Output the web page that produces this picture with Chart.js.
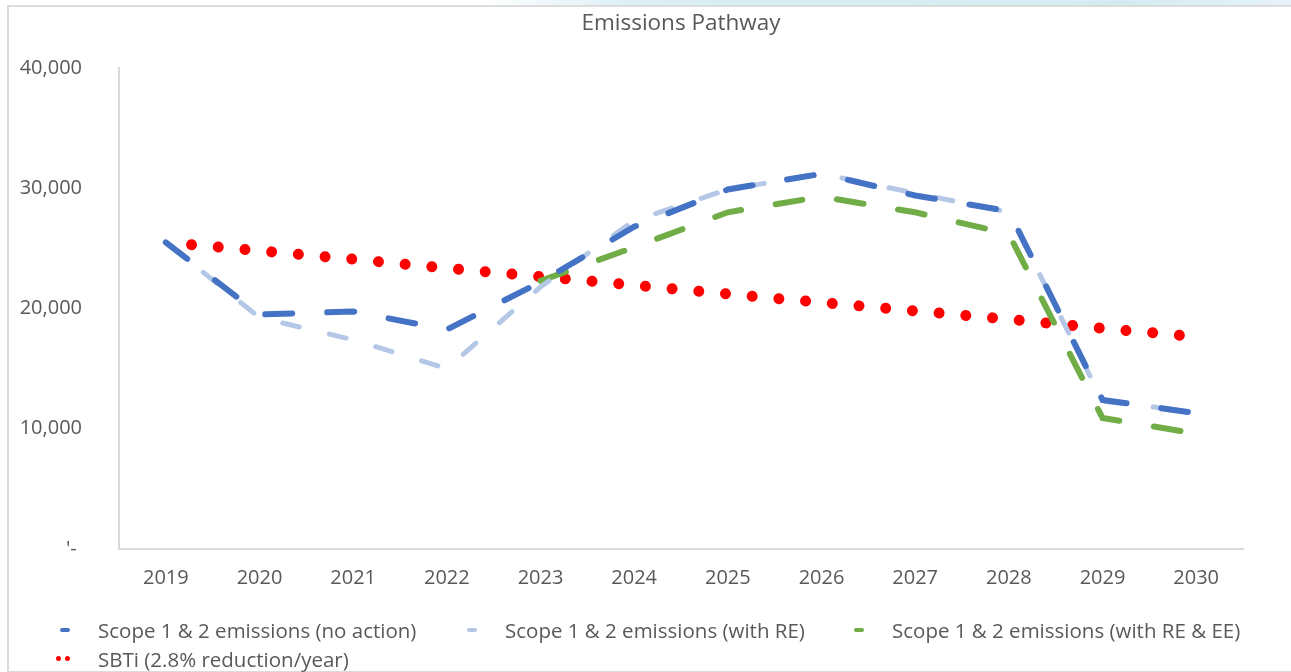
<!DOCTYPE html>
<html>
<head>
<meta charset="utf-8">
<title>Emissions Pathway</title>
<script src="https://cdn.jsdelivr.net/npm/chart.js@4.4.1/dist/chart.umd.min.js"></script>
<style>
    body { margin: 0; background: #fff; font-family: "Open Sans", "Noto Sans", sans-serif; color: #595959; }
    .page { position: relative; width: 1291px; height: 672px; overflow: hidden; }
    .band { position: absolute; left: 480px; top: 0; width: 811px; height: 5px;
            background: linear-gradient(90deg, rgba(214,236,243,0) 0%, #d9eef5 20%, #d4ebf3 80%, #e6f3f8 100%); }
    .frame { position: absolute; left: 7px; top: 5px; width: 1300px; height: 664px;
             border-top: 2px solid #dcdcdc; border-left: 2px solid #dcdcdc; border-bottom: 2px solid #dcdcdc; }
    canvas { position: absolute; left: 0; top: 0; }
    .title { position: absolute; top: 8px; left: 481px; width: 400px; text-align: center; font-size: 22.5px; line-height: 28px; }
    .legend-item { position: absolute; font-size: 20.5px; line-height: 26px; white-space: nowrap; }
    .sym { position: absolute; top: 11px; height: 4px; width: 10px; border-radius: 2px; }
    .dots { position: absolute; top: 10px; width: 14px; height: 6px; }
    .dots i { position: absolute; top: 0; width: 5px; height: 5px; border-radius: 50%; background: #ff0000; }
</style>
</head>
<body>
<div class="page">
    <div class="band"></div>
    <div class="frame"></div>
    <canvas id="pathwayChart" width="1291" height="672"></canvas>
    <div class="title">Emissions Pathway</div>
    <div id="legend"></div>
</div>
<script>
// ─── DATA ───
const years = ['2019', '2020', '2021', '2022', '2023', '2024', '2025', '2026', '2027', '2028', '2029', '2030'];
const noAction = [25500, 19500, 19750, 18250, 22200, 26800, 29900, 31200, 29400, 28100, 12400, 11300];
const withRE = [25500, 19250, 17400, 15000, 21800, 27300, 29900, 31200, 29600, 28000, 12300, 11400];
const withREEE = [null, null, null, null, 22300, 25100, 28000, 29300, 28000, 26200, 10900, 9600];
const sbti = [25500, 24800, 24100, 23350, 22650, 21950, 21200, 20500, 19800, 19100, 18350, 17650];
const yTicks = [0, 10000, 20000, 30000, 40000];

const textColor = '#595959';
const axisColor = '#d9d9d9';

// ─── CHART ───
const ctx = document.getElementById('pathwayChart').getContext('2d');

new Chart(ctx, {
    type: 'line',
    data: {
        labels: years,
        datasets: [{
            label: 'Scope 1 & 2 emissions (no action)',
            data: noAction,
            borderColor: '#4472c4',
            borderWidth: 6,
            borderDash: [27, 35],
            borderCapStyle: 'round',
            pointRadius: 0,
            tension: 0
        }, {
            label: 'Scope 1 & 2 emissions (with RE)',
            data: withRE,
            borderColor: '#b4c7e7',
            borderWidth: 5,
            borderDash: [17, 31],
            borderCapStyle: 'round',
            pointRadius: 0,
            tension: 0
        }, {
            label: 'Scope 1 & 2 emissions (with RE & EE)',
            data: withREEE,
            borderColor: '#70ad47',
            borderWidth: 6,
            borderDash: [27, 35],
            borderCapStyle: 'round',
            pointRadius: 0,
            tension: 0
        }, {
            label: 'SBTi (2.8% reduction/year)',
            data: sbti,
            borderColor: '#ff0000',
            borderWidth: 11,
            borderDash: [0.01, 26.8],
            borderDashOffset: 1,
            borderCapStyle: 'round',
            pointRadius: 0,
            tension: 0
        }]
    },
    options: {
        responsive: false,
        animation: false,
        devicePixelRatio: 1,
        layout: { padding: { top: 68, right: 48, bottom: 73, left: 0 } },
        plugins: {
            legend: { display: false },
            title: { display: false },
            tooltip: { enabled: false }
        },
        scales: {
            x: {
                offset: true,
                grid: { display: false },
                border: { display: true, color: axisColor, width: 2 },
                ticks: { color: textColor, padding: 9, font: { family: 'Open Sans', size: 20 } },
                afterFit: s => { s.height = 50; }
            },
            y: {
                min: 0,
                max: 40000,
                grid: { display: false },
                border: { display: true, color: axisColor, width: 2 },
                afterBuildTicks: s => { s.ticks = yTicks.map(v => ({ value: v })); },
                afterFit: s => { s.width = 119; },
                ticks: {
                    color: textColor,
                    padding: 29,
                    font: { family: 'Open Sans', size: 20 },
                    // zero shows as an accounting dash, like the source sheet
                    callback: v => v === 0 ? "'- " : v.toLocaleString('en-US')
                }
            }
        }
    }
});

// ─── LEGEND ───
const legendItems = [
    { text: 'Scope 1 & 2 emissions (no action)', color: '#4472c4', x: 98, y: 617 },
    { text: 'Scope 1 & 2 emissions (with RE)', color: '#b4c7e7', x: 505, y: 617 },
    { text: 'Scope 1 & 2 emissions (with RE & EE)', color: '#70ad47', x: 892, y: 617 },
    { text: 'SBTi (2.8% reduction/year)', color: '#ff0000', x: 98, y: 646, dotted: true }
];

document.getElementById('legend').innerHTML = legendItems.map(item => `
    <div class="legend-item" style="left:${item.x}px; top:${item.y}px;">
        ${item.dotted
            ? `<span class="dots" style="left:-42px;"><i style="left:0"></i><i style="left:9px"></i></span>`
            : `<span class="sym" style="left:-38px; background:${item.color};"></span>`}
        ${item.text.replace(/&/g, '&amp;')}
    </div>
`).join('');
</script>
</body>
</html>
